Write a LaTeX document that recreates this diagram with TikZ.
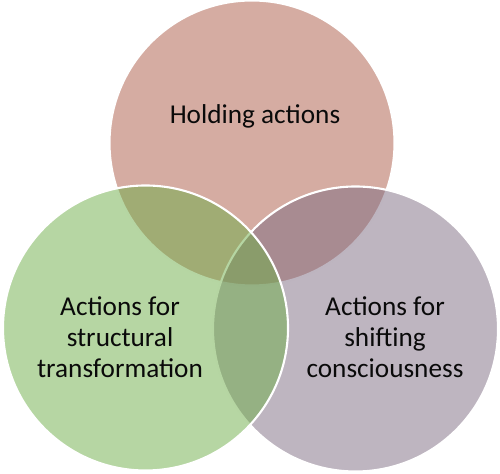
\documentclass[tikz,border=0pt]{standalone}
\usepackage{fontspec}
\setmainfont{Carlito}
\usetikzlibrary{positioning}

\definecolor{holdred}{RGB}{171,89,69}
\definecolor{structgreen}{RGB}{109,173,71}
\definecolor{shiftgrey}{RGB}{125,107,129}
\definecolor{txtdark}{RGB}{10,10,10}

\tikzset{
	venn/.style={circle, minimum size=5.7cm, inner sep=0pt, draw=white, line width=1.2pt, fill opacity=0.5},
	venntext/.style={align=center, text=txtdark, font=\fontsize{15.5}{17.8}\selectfont}
}

\begin{document}
\begin{tikzpicture}
	[
	x=1cm, y=1cm
	%Rahmen wie im Original
	]
	
	\useasboundingbox (0,0) rectangle (10,9.48);
	
	%Kreise
	\node[venn, fill=holdred] (hold) at (5.04,6.62) {};
	\node[venn, fill=shiftgrey] (shift) at (7.11,2.90) {};
	\node[venn, fill=structgreen] (struct) at (2.91,2.92) {};
	
	%Beschriftung
	\node[venntext, anchor=base] (holdtxt) at (5.10,7.00) {Holding actions};
	\node[venntext] (structtxt) at (2.40,2.74) {Actions for\\structural\\transformation};
	\node[venntext] (shifttxt) at (7.70,2.74) {Actions for\\shifting\\consciousness};
\end{tikzpicture}
\end{document}
